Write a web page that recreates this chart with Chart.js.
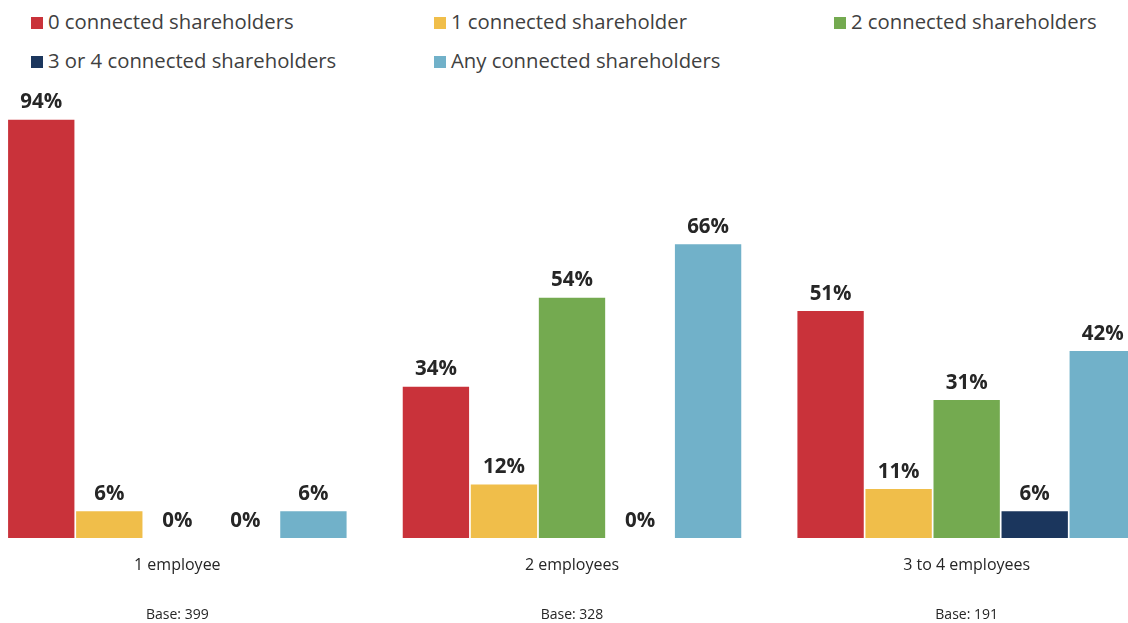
<!DOCTYPE html>
<html>
<head>
<meta charset="utf-8">
<script src="https://cdn.jsdelivr.net/npm/chart.js@4"></script>
<style>
  html, body { margin: 0; padding: 0; background: #fff; overflow: hidden; width: 1128px; height: 623px; }
  #legend { position: absolute; left: 31px; top: 6px; width: 1100px; font-family: "Open Sans", sans-serif; font-size: 20.3px; color: #404040; }
  .item { position: absolute; white-space: nowrap; line-height: 30px; }
  .item span.box { display: inline-block; width: 12px; height: 12px; margin-right: 5px; vertical-align: 0px; }
  #wrap { position: absolute; left: -20px; top: 80px; width: 1184px; height: 543px; }
</style>
</head>
<body>
<div id="legend"></div>
<div id="wrap"><canvas id="myChart"></canvas></div>
<script>
const categories = ['1 employee', '2 employees', '3 to 4 employees'];
const bases = ['Base: 399', 'Base: 328', 'Base: 191'];
const seriesNames = [
  '0 connected shareholders',
  '1 connected shareholder',
  '2 connected shareholders',
  '3 or 4 connected shareholders',
  'Any connected shareholders'
];
const colors = ['#C9323A', '#F0BE4A', '#74AA50', '#1B365D', '#71B1C9'];
const zeroConnected = [94, 34, 51];
const oneConnected = [6, 12, 11];
const twoConnected = [0, 54, 31];
const threeFourConnected = [0, 0, 6];
const anyConnected = [6, 66, 42];
const seriesValues = [zeroConnected, oneConnected, twoConnected, threeFourConnected, anyConnected];

// legend in a 3 column grid
const legendPos = [[0, 0], [403, 0], [803, 0], [0, 39], [403, 39]];
var legend = document.getElementById('legend');
seriesNames.forEach(function (name, i) {
  var d = document.createElement('div');
  d.className = 'item';
  d.style.left = legendPos[i][0] + 'px';
  d.style.top = legendPos[i][1] + 'px';
  d.innerHTML = '<span class="box" style="background:' + colors[i] + '"></span>' + name;
  legend.appendChild(d);
});

const barLabels = {
  id: 'barLabels',
  afterDatasetsDraw(chart) {
    const ctx = chart.ctx;
    ctx.save();
    ctx.font = 'bold 20.5px "Open Sans"';
    ctx.fillStyle = '#262626';
    ctx.textAlign = 'center';
    ctx.textBaseline = 'bottom';
    chart.data.datasets.forEach(function (ds, i) {
      chart.getDatasetMeta(i).data.forEach(function (bar, j) {
        ctx.fillText(ds.data[j] + '%', bar.x, bar.y - 7);
      });
    });
    // base counts under the category labels
    const x = chart.scales.x;
    ctx.font = '14px "Open Sans"';
    ctx.textBaseline = 'middle';
    bases.forEach(function (b, j) {
      ctx.fillText(b, x.getPixelForValue(j), 535);
    });
    ctx.restore();
  }
};

const data = {
  labels: categories,
  datasets: seriesNames.map(function (name, i) {
    return {
      label: name,
      data: seriesValues[i],
      backgroundColor: colors[i],
      categoryPercentage: 0.862,
      barPercentage: 0.975
    };
  })
};

const config = {
  type: 'bar',
  data: data,
  plugins: [barLabels],
  options: {
    responsive: true,
    maintainAspectRatio: false,
    animation: false,
    layout: { padding: { top: 13, left: 0, right: 0, bottom: 0 } },
    plugins: { legend: { display: false }, tooltip: { enabled: false } },
    scales: {
      y: { display: false, min: 0, max: 100 },
      x: {
        grid: { display: false },
        border: { display: false },
        ticks: { color: '#262626', font: { family: 'Open Sans', size: 16 }, padding: 10 },
        afterFit: function (scale) { scale.height = 85; }
      }
    }
  }
};

const myChart = new Chart(document.getElementById('myChart'), config);
</script>
</body>
</html>
